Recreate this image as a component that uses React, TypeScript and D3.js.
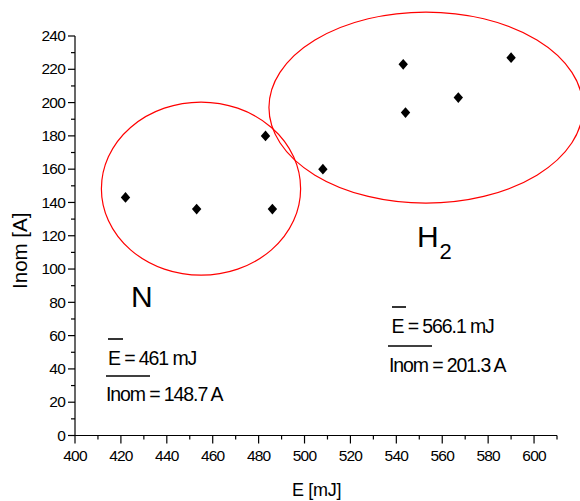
import React from "react";
import * as d3 from "d3";

// measured points: E [mJ], Inom [A]
const nEnergy = [422, 453, 483, 486];
const nCurrent = [143, 136, 180, 136];
const hEnergy = [508, 543, 544, 567, 590];
const hCurrent = [160, 223, 194, 203, 227];

// cluster outlines (data units): centre E, centre I, radius E, radius I
const clusterNames = ["N", "H2"];
const clusterCx = [454.9, 552.9];
const clusterCy = [148.3, 197.0];
const clusterRx = [43.4, 68.4];
const clusterRy = [52.0, 57.4];

const xMajor = d3.range(400, 601, 20);
const xMinor = d3.range(410, 611, 20);
const yMajor = d3.range(0, 241, 20);
const yMinor = d3.range(10, 240, 20);

const W = 580;
const H = 501;
const FONT = "'Liberation Sans', Arial, sans-serif";

export default function App() {
  const x = d3.scaleLinear().domain([400, 610]).range([75, 557]);
  const y = d3.scaleLinear().domain([0, 240]).range([435.5, 36]);

  const points = [
    ...nEnergy.map((e, i) => [e, nCurrent[i]]),
    ...hEnergy.map((e, i) => [e, hCurrent[i]]),
  ];

  const diamond = "M0,-5.4L4.7,0L0,5.4L-4.7,0Z";
  const y0 = y(0);
  const x0 = x(400);

  return (
    <svg
      width={W}
      height={H}
      style={{ position: "absolute", left: 0, top: 0, background: "#fff" }}
      fontFamily={FONT}
    >
      {/* cluster ellipses */}
      {clusterNames.map((n, i) => (
        <ellipse
          key={n}
          cx={x(clusterCx[i])}
          cy={y(clusterCy[i])}
          rx={x(clusterCx[i] + clusterRx[i]) - x(clusterCx[i])}
          ry={y(clusterCy[i] - clusterRy[i]) - y(clusterCy[i])}
          fill="none"
          stroke="#ff0000"
          strokeWidth={1.2}
        />
      ))}

      {/* x axis */}
      <line x1={x0} x2={x(610)} y1={y0} y2={y0} stroke="#000" strokeWidth={1.2} />
      {xMajor.map(v => (
        <g key={"xm" + v}>
          <line x1={x(v)} x2={x(v)} y1={y0} y2={y0 + 8} stroke="#000" strokeWidth={1.2} />
          <text x={x(v)} y={461} textAnchor="middle" fontSize={15.5} letterSpacing={-0.8}>
            {v}
          </text>
        </g>
      ))}
      {xMinor.map(v => (
        <line key={"xn" + v} x1={x(v)} x2={x(v)} y1={y0} y2={y0 + 4} stroke="#000" strokeWidth={1.2} />
      ))}
      <text x={316.5} y={495.5} textAnchor="middle" fontSize={18} letterSpacing={-0.3}>
        E [mJ]
      </text>

      {/* y axis */}
      <line x1={x0} x2={x0} y1={y(240)} y2={y0} stroke="#000" strokeWidth={1.2} />
      {yMajor.map(v => (
        <g key={"ym" + v}>
          <line x1={x0 - 7} x2={x0} y1={y(v)} y2={y(v)} stroke="#000" strokeWidth={1.2} />
          <text x={65} y={y(v) + 5.2} textAnchor="end" fontSize={15.5} letterSpacing={-0.8}>
            {v}
          </text>
        </g>
      ))}
      {yMinor.map(v => (
        <line key={"yn" + v} x1={x0 - 4} x2={x0} y1={y(v)} y2={y(v)} stroke="#000" strokeWidth={1.2} />
      ))}
      <text
        transform={`translate(27,${y(111)}) rotate(-90)`}
        textAnchor="middle"
        fontSize={20.5}
      >
        Inom [A]
      </text>

      {/* data points */}
      {points.map(([e, c], i) => (
        <path key={i} d={diamond} transform={`translate(${x(e)},${y(c)})`} fill="#000" />
      ))}

      {/* N annotation */}
      <text x={131} y={307} fontSize={30}>N</text>
      <line x1={108} x2={123} y1={339} y2={339} stroke="#000" strokeWidth={1.6} />
      <text x={108} y={365} fontSize={19.5} letterSpacing={-1.1}>E = 461 mJ</text>
      <line x1={106} x2={150} y1={376} y2={376} stroke="#000" strokeWidth={1.6} />
      <text x={106} y={400.5} fontSize={19.5} letterSpacing={-1.1}>Inom = 148.7 A</text>

      {/* H2 annotation */}
      <text x={417} y={247} fontSize={30}>H</text>
      <text x={439.5} y={259} fontSize={22}>2</text>
      <line x1={392} x2={406} y1={307} y2={307} stroke="#000" strokeWidth={1.6} />
      <text x={391.5} y={333} fontSize={19.5} letterSpacing={-1.1}>E = 566.1 mJ</text>
      <line x1={388} x2={432} y1={346} y2={346} stroke="#000" strokeWidth={1.6} />
      <text x={389} y={372} fontSize={19.5} letterSpacing={-1.1}>Inom = 201.3 A</text>
    </svg>
  );
}
